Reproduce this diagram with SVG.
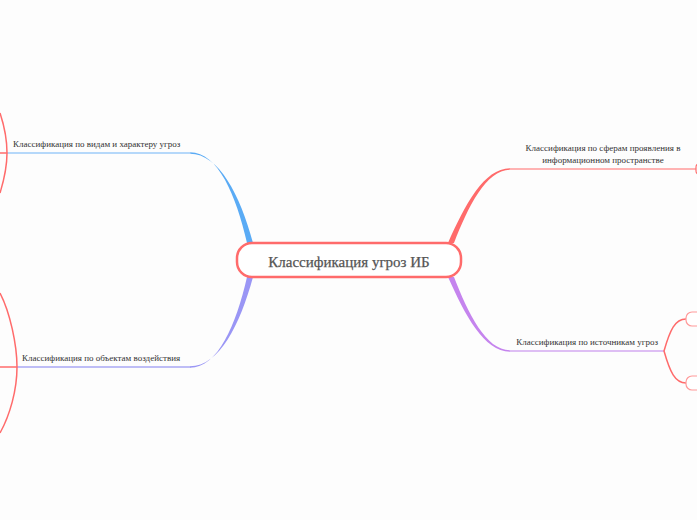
<svg xmlns="http://www.w3.org/2000/svg" width="697" height="520" viewBox="0 0 697 520">
<style>
.lbl{font-family:"Liberation Serif","Times New Roman",serif;font-size:9px;fill:#333}
.title{font-family:"Liberation Serif","Times New Roman",serif;font-size:15px;font-weight:normal;fill:#555;stroke:#555;stroke-width:0.25}
.red{fill:none;stroke:#FF6B6B;stroke-width:1.5}
</style>
<rect width="697" height="520" fill="#FDFDFD"/>
<g id="connectors">
  <path d="M190,152.3 C218,152.3 236,195 247,243 L253,243 C240,195 219,153.7 190,153.7 Z" fill="#5AABF5"/>
  <line x1="7" y1="153" x2="191" y2="153" stroke="#9CCBF8" stroke-width="1.4"/>
  <path d="M190,367.7 C218,367.7 236,325 247,277 L253,277 C240,325 219,366.3 190,366.3 Z" fill="#9A96F5"/>
  <line x1="17" y1="367" x2="191" y2="367" stroke="#A9A7F3" stroke-width="1.4"/>
  <path d="M510,168.3 C484,168.3 465,205 448,243 L454,243 C468,207 486,169.7 510,169.7 Z" fill="#FF6B6B"/>
  <line x1="509" y1="169" x2="697" y2="169" stroke="#FF9A9A" stroke-width="1.4"/>
  <path d="M510,351.7 C484,351.7 465,315 448,277 L454,277 C468,313 486,350.3 510,350.3 Z" fill="#C584EE"/>
  <line x1="509" y1="351" x2="664" y2="351" stroke="#D3A8F0" stroke-width="1.4"/>
  <line x1="0" y1="153" x2="7" y2="153" class="red"/>
  <path d="M0,113 C4,125 7,140 7,153 C7,166 4,180 0,193" class="red"/>
  <line x1="0" y1="367" x2="17" y2="367" class="red"/>
  <path d="M0,293 C10,312 17,345 17,367 C17,390 10,415 0,433" class="red"/>
  <path d="M686,319 C675,319 670,330 664,351 C670,372 675,383 686,383" class="red"/>
</g>
<g id="central">
  <rect x="237" y="243" width="224" height="34" rx="15" fill="#FFFFFF" stroke="#FF6B6B" stroke-width="2.5"/>
  <text x="349" y="266.5" text-anchor="middle" class="title">Классификация угроз ИБ</text>
</g>
<g id="n-types">
  <text x="13" y="146.5" class="lbl">Классификация по видам и характеру угроз</text>
</g>
<g id="n-objects">
  <text x="22" y="361" class="lbl">Классификация по объектам воздействия</text>
</g>
<g id="n-spheres">
  <text x="603" y="151" text-anchor="middle" class="lbl">Классификация по сферам проявления в</text>
  <text x="603" y="163" text-anchor="middle" class="lbl">информационном пространстве</text>
</g>
<g id="n-sources">
  <text x="658" y="345" text-anchor="end" class="lbl">Классификация по источникам угроз</text>
</g>
<g id="n-child-top">
  <rect x="686" y="312" width="30" height="14" rx="6" fill="#FFFFFF" stroke="#FF9A9A" stroke-width="1.2"/>
</g>
<g id="n-child-bottom">
  <rect x="686" y="376" width="30" height="14" rx="6" fill="#FFFFFF" stroke="#FF9A9A" stroke-width="1.2"/>
</g>
<g id="n-right-edge">
  <rect x="696" y="164" width="10" height="10" rx="3" fill="#FFFFFF" stroke="#FF6B6B" stroke-width="1.2"/>
</g>
</svg>
